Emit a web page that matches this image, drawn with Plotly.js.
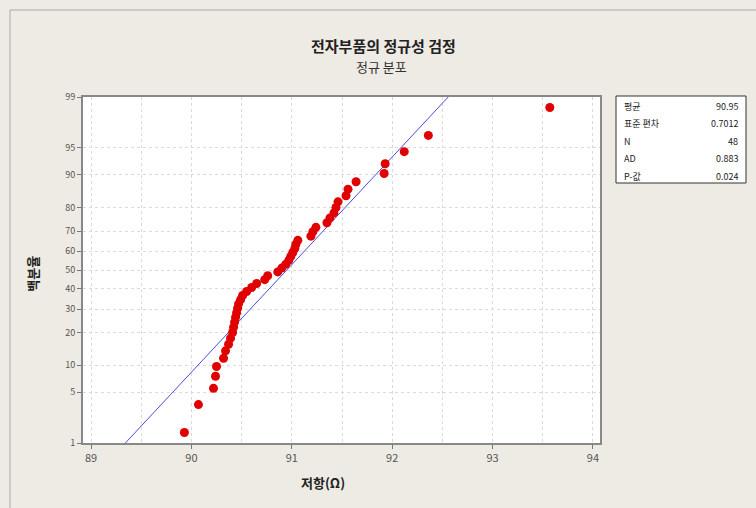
<!DOCTYPE html>
<html>
<head>
<meta charset="utf-8">
<script src="https://cdn.plot.ly/plotly-3.0.1.min.js"></script>
<style>html,body{margin:0;padding:0;background:#EEEBE4;}#chart{width:756px;height:508px;}</style>
</head>
<body>
<div id="chart"></div>
<script>
// Resistance values (sorted)
const resistance = [89.93, 90.07, 90.22, 90.24, 90.25, 90.32, 90.34, 90.37, 90.39, 90.41,
  90.42, 90.43, 90.44, 90.45, 90.46, 90.47, 90.49, 90.51, 90.55, 90.60,
  90.65, 90.73, 90.76, 90.86, 90.90, 90.94, 90.97, 90.99, 91.01, 91.03,
  91.04, 91.06, 91.19, 91.21, 91.24, 91.35, 91.38, 91.42, 91.44, 91.46,
  91.54, 91.56, 91.64, 91.92, 91.93, 92.12, 92.36, 93.57];
const percentTicks = [1, 5, 10, 20, 30, 40, 50, 60, 70, 80, 90, 95, 99];
const xTicks = [89, 90, 91, 92, 93, 94];
const statLabels = ["평균", "표준 편차", "N", "AD", "P-값"];
const statValues = ["90.95", "0.7012", "48", "0.883", "0.024"];
const fitMean = 90.95;
const fitSd = 0.6912;

// inverse standard normal CDF (Acklam)
function norminv(p) {
  const a = [-3.969683028665376e+01, 2.209460984245205e+02, -2.759285104469687e+02, 1.383577518672690e+02, -3.066479806614716e+01, 2.506628277459239e+00];
  const b = [-5.447609879822406e+01, 1.615858368580409e+02, -1.556989798598866e+02, 6.680131188771972e+01, -1.328068155288572e+01];
  const c = [-7.784894002430293e-03, -3.223964580411365e-01, -2.400758277161838e+00, -2.549732539343734e+00, 4.374664141464968e+00, 2.938163982698783e+00];
  const d = [7.784695709041462e-03, 3.224671290700398e-01, 2.445134137142996e+00, 3.754408661907416e+00];
  const pl = 0.02425, ph = 1 - pl;
  let q, r;
  if (p < pl) { q = Math.sqrt(-2 * Math.log(p)); return (((((c[0]*q+c[1])*q+c[2])*q+c[3])*q+c[4])*q+c[5]) / ((((d[0]*q+d[1])*q+d[2])*q+d[3])*q+1); }
  if (p <= ph) { q = p - 0.5; r = q*q; return (((((a[0]*r+a[1])*r+a[2])*r+a[3])*r+a[4])*r+a[5])*q / (((((b[0]*r+b[1])*r+b[2])*r+b[3])*r+b[4])*r+1); }
  q = Math.sqrt(-2 * Math.log(1 - p)); return -(((((c[0]*q+c[1])*q+c[2])*q+c[3])*q+c[4])*q+c[5]) / ((((d[0]*q+d[1])*q+d[2])*q+d[3])*q+1);
}

const n = resistance.length;
// median-rank plotting positions (Minitab default), on a normal-probability scale
const zPos = resistance.map((v, i) => norminv((i + 1 - 0.3) / (n + 0.4)));
const pText = zPos.map((z, i) => ((i + 1 - 0.3) / (n + 0.4) * 100).toFixed(1));

const zLine = [-3, 3];
const xLine = zLine.map(z => fitMean + z * fitSd);

const font = "'Noto Sans CJK KR', 'Noto Sans', sans-serif";

const traces = [
  { x: xLine, y: zLine, mode: 'lines', line: { color: '#4a4ae0', width: 1 }, hoverinfo: 'skip', showlegend: false },
  { x: resistance, y: zPos, text: pText, mode: 'markers', marker: { color: '#e00000', size: 9 }, showlegend: false,
    hovertemplate: '%{x}<br>%{text}%<extra></extra>' }
];

const annotations = [
  { text: '<b>전자부품의 정규성 검정</b>', xref: 'paper', yref: 'paper', x: 0.582, y: 1.148, xanchor: 'center', yanchor: 'middle', showarrow: false, font: { family: font, size: 15, color: '#222' } },
  { text: '정규 분포', xref: 'paper', yref: 'paper', x: 0.578, y: 1.087, xanchor: 'center', yanchor: 'middle', showarrow: false, font: { family: font, size: 13, color: '#333' } },
  { text: '<b>저항(Ω)</b>', xref: 'paper', yref: 'paper', x: 0.464, y: -0.115, xanchor: 'center', yanchor: 'middle', showarrow: false, font: { family: font, size: 13, color: '#222' } },
  { text: '<b>백분율</b>', xref: 'paper', yref: 'paper', x: -0.098, y: 0.49, xanchor: 'center', yanchor: 'middle', textangle: -90, showarrow: false, font: { family: font, size: 13, color: '#222' } }
];
const boxLeft = (616 - 83) / 517, boxRight = (746 - 83) / 517;
statLabels.forEach((lab, i) => {
  const yy = (443 - (106 + i * 17.5)) / 346;
  annotations.push({ text: lab, xref: 'paper', yref: 'paper', x: boxLeft + 0.012, y: yy, xanchor: 'left', yanchor: 'middle', showarrow: false, font: { family: font, size: 9, color: '#222' } });
  annotations.push({ text: statValues[i], xref: 'paper', yref: 'paper', x: boxRight - 0.012, y: yy, xanchor: 'right', yanchor: 'middle', showarrow: false, font: { family: font, size: 9, color: '#222' } });
});

const shapes = [
  { type: 'rect', xref: 'paper', yref: 'paper', x0: boxLeft, x1: boxRight, y0: (443 - 183) / 346, y1: (443 - 96) / 346, line: { color: '#333', width: 1 }, fillcolor: '#ffffff', layer: 'below' },
  { type: 'line', xref: 'paper', yref: 'paper', x0: (10 - 83) / 517, x1: (760 - 83) / 517, y0: (443 - 10) / 346, y1: (443 - 10) / 346, line: { color: '#a8a8a8', width: 1 } },
  { type: 'line', xref: 'paper', yref: 'paper', x0: (10 - 83) / 517, x1: (10 - 83) / 517, y0: (443 - 10) / 346, y1: (443 - 512) / 346, line: { color: '#a8a8a8', width: 1 } }
];

const gridCol = '#dadada';
const layout = {
  width: 756, height: 508,
  paper_bgcolor: '#EEEBE4', plot_bgcolor: '#ffffff',
  margin: { l: 83, r: 156, t: 97, b: 65, pad: 0 },
  font: { family: font, size: 10, color: '#444' },
  showlegend: false,
  xaxis: {
    range: [88.92, 94.07], tickvals: xTicks, ticktext: xTicks.map(String),
    ticks: 'outside', ticklen: 4, tickcolor: '#777', showline: true, linecolor: '#888', linewidth: 2, mirror: true,
    showgrid: true, gridcolor: gridCol, griddash: '3px,3px', gridwidth: 1, zeroline: false,
    minor: { dtick: 0.5, tick0: 89, showgrid: true, gridcolor: gridCol, griddash: '3px,3px', ticks: '' },
    tickfont: { family: font, size: 11, color: '#555' }
  },
  yaxis: {
    range: [norminv(0.01), norminv(0.99)],
    tickvals: percentTicks.map(p => norminv(p / 100)), ticktext: percentTicks.map(String),
    ticks: 'outside', ticklen: 4, tickcolor: '#777', showline: true, linecolor: '#888', linewidth: 2, mirror: true,
    showgrid: true, gridcolor: gridCol, griddash: '3px,3px', gridwidth: 1, zeroline: false,
    tickfont: { family: font, size: 9, color: '#555' }
  },
  annotations: annotations,
  shapes: shapes
};

Plotly.newPlot('chart', traces, layout, { displayModeBar: false, staticPlot: true });
</script>
</body>
</html>
